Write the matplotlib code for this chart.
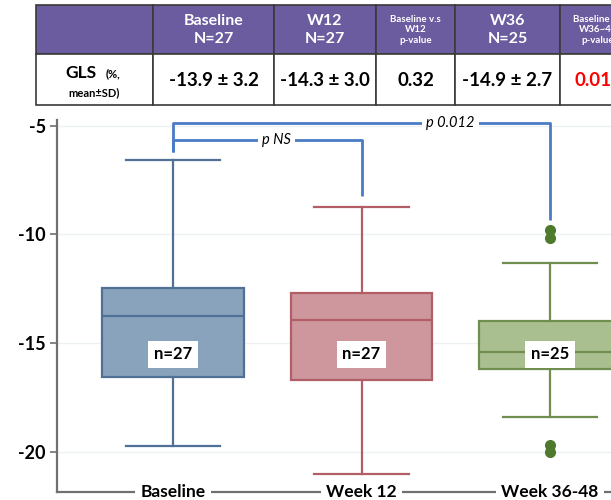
import numpy as np
import matplotlib.pyplot as plt
from matplotlib.patches import Rectangle

plt.rcParams['font.family'] = ['Lato', 'DejaVu Sans']

# box plot data (GLS %)
groups = ['Baseline', 'Week 12', 'Week 36-48']
n_labels = ['n=27', 'n=27', 'n=25']
whis_hi = [-6.58, -8.74, -11.31]
q3 = [-12.46, -12.69, -13.98]
median = [-13.74, -13.93, -15.39]
q1 = [-16.54, -16.69, -16.19]
whis_lo = [-19.73, -21.03, -18.41]
fliers = [[], [], [-9.80, -10.17, -19.68, -19.99]]

fill_colors = ['#8aa3bd', '#cd979d', '#aabf8f']
edge_colors = ['#4f7196', '#b25e67', '#6f8e4f']

# significance brackets: (from group, to group, level, drop ends, text, text x)
brackets = [
    (0, 2, -4.88, (-6.22, -9.34), 'p 0.012', 2.47),
    (0, 1, -5.66, (-6.22, -8.23), 'p NS', 1.55),
]

# table
header = ['', 'Baseline\nN=27', 'W12\nN=27', 'Baseline v.s\nW12\np-value',
          'W36\nN=25', 'Baseline v.s\nW36~48\np-value']
row_vals = ['', '-13.9 ± 3.2', '-14.3 ± 3.0', '0.32', '-14.9 ± 2.7', '0.012']
col_edges = [36, 153, 274, 376, 455, 560, 636]

fig = plt.figure(figsize=(6.11, 5), dpi=100)
W, H = 611.0, 500.0

# ---- table ----
tab = fig.add_axes([36 / W, (H - 105) / H, (636 - 36) / W, 100 / H])
tab.set_xlim(36, 636)
tab.set_ylim(105, 5)
tab.axis('off')
for i in range(len(col_edges) - 1):
    x0, x1 = col_edges[i], col_edges[i + 1]
    tab.add_patch(Rectangle((x0, 5), x1 - x0, 49, fc='#6b5b9f', ec='#3a3a3a', lw=1.2, clip_on=False))
    tab.add_patch(Rectangle((x0, 54), x1 - x0, 51, fc='white', ec='#3a3a3a', lw=1.2, clip_on=False))
    xc = (x0 + x1) / 2
    small = header[i].count('\n') == 2
    tab.text(xc, 30, header[i], ha='center', va='center', color='white', fontweight='bold',
             fontsize=7 if small else 11.5, linespacing=1.15 if small else 1.3, clip_on=False)
    tab.text(xc, 80, row_vals[i], ha='center', va='center', fontweight='bold', fontsize=13.5,
             color='#ff0000' if row_vals[i] == '0.012' else 'black', clip_on=False)
tab.text(65, 73, 'GLS', ha='left', va='center', fontweight='bold', fontsize=12.5)
tab.text(106, 74, '(%,', ha='left', va='center', fontweight='bold', fontsize=8)
tab.text(94, 93, 'mean±SD)', ha='center', va='center', fontweight='bold', fontsize=8)

# ---- box plot ----
pos = np.arange(1, len(groups) + 1)
px_per_unit = 188.5
xlo = 1 - (173 - 57) / px_per_unit
ax_w = 650
ax = fig.add_axes([57 / W, (H - 491.7) / H, ax_w / W, (491.7 - 120) / H])
ax.set_xlim(xlo, xlo + ax_w / px_per_unit)
ax.set_ylim(-21.83, -4.74)

stats = []
for i in range(len(groups)):
    stats.append(dict(med=median[i], q1=q1[i], q3=q3[i], whislo=whis_lo[i],
                      whishi=whis_hi[i], fliers=fliers[i]))
bp = ax.bxp(stats, positions=pos, widths=0.75, patch_artist=True, showfliers=True)
for i in range(len(groups)):
    bp['boxes'][i].set(facecolor=fill_colors[i], edgecolor=edge_colors[i], linewidth=1.6)
    bp['medians'][i].set(color=edge_colors[i], linewidth=1.6)
    for w in bp['whiskers'][2 * i:2 * i + 2]:
        w.set(color=edge_colors[i], linewidth=1.6)
    for c in bp['caps'][2 * i:2 * i + 2]:
        c.set(color=edge_colors[i], linewidth=1.6, xdata=[pos[i] - 0.25, pos[i] + 0.25])
    bp['fliers'][i].set(marker='o', markerfacecolor='#4e7a2e', markeredgecolor='#4e7a2e', markersize=7)

for i in range(len(groups)):
    ax.text(pos[i], -15.5, n_labels[i], ha='center', va='center', fontsize=12, fontweight='bold',
            bbox=dict(fc='white', ec='none', pad=4), zorder=5)

blue = '#4a7cc6'
for a, b, lev, ends, txt, tx in brackets:
    ax.plot([pos[a], pos[a], pos[b], pos[b]], [ends[0], lev, lev, ends[1]], color=blue, lw=2,
            solid_capstyle='butt', zorder=4)
    ax.text(tx, lev, txt, ha='center', va='center', style='italic', fontsize=10.5,
            bbox=dict(fc='white', ec='none', pad=3), zorder=5)

ax.set_yticks([-5, -10, -15, -20])
ax.set_yticklabels(['-5', '-10', '-15', '-20'], fontsize=13, fontweight='bold')
ax.yaxis.grid(True, color='#edf1f4', lw=1)
ax.set_axisbelow(True)
ax.tick_params(axis='y', length=5, width=1.2, color='#707070', pad=3)
ax.set_xticks([])
for s in ['top', 'right']:
    ax.spines[s].set_visible(False)
for s in ['left', 'bottom']:
    ax.spines[s].set_color('#707070')
    ax.spines[s].set_linewidth(1.6)

for i in range(len(groups)):
    ax.text(pos[i], 0, groups[i], transform=ax.get_xaxis_transform(), ha='center', va='center',
            fontsize=12.5, fontweight='bold', bbox=dict(fc='white', ec='none', pad=4),
            zorder=6, clip_on=False)

fig.savefig('out.png', dpi=100)
